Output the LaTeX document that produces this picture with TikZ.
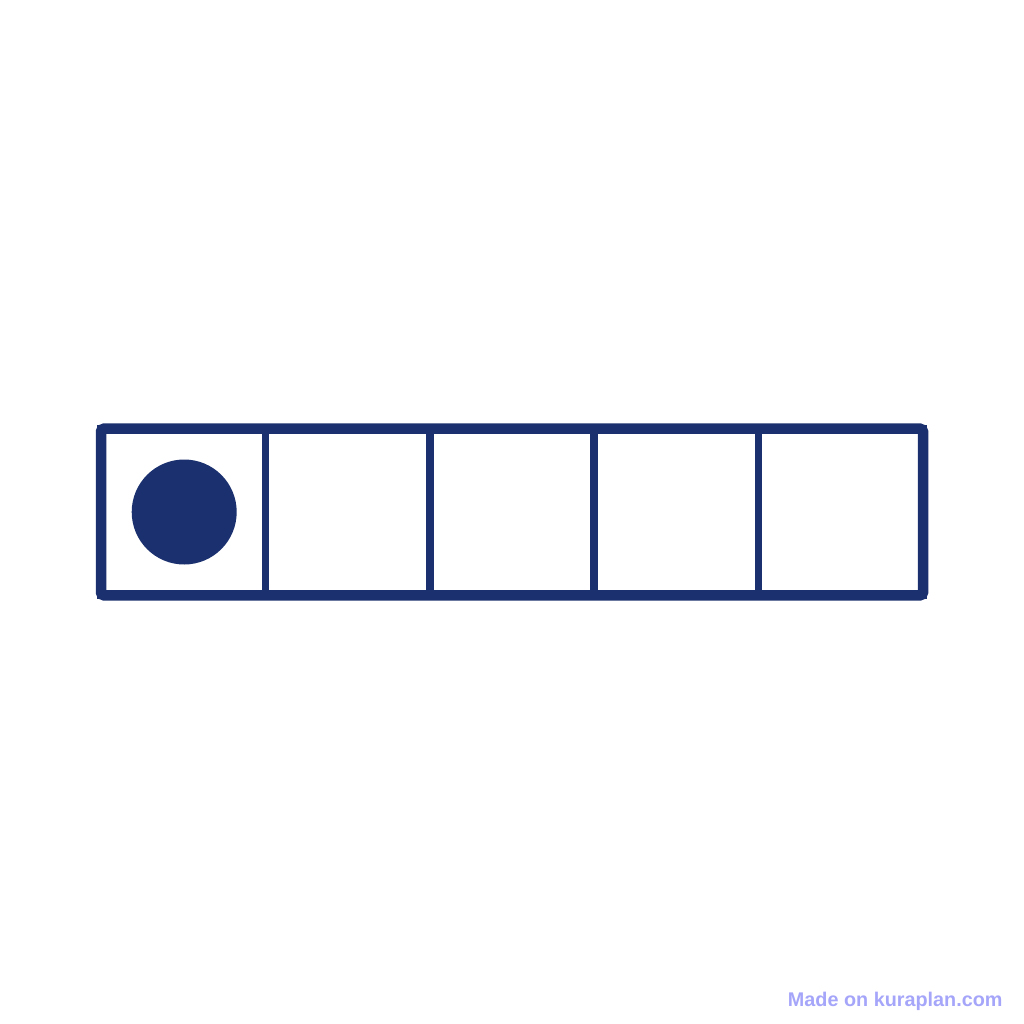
\documentclass[tikz,border=0pt]{standalone}
\usepackage{fontspec}
\setmainfont{Liberation Sans}
\usetikzlibrary{positioning}
\definecolor{navy}{RGB}{27,49,111}
\definecolor{mark}{RGB}{165,165,250}
\tikzset{x=1pt, y=-1pt,
cell/.style={draw=navy, line width=7.5pt, rectangle, inner sep=0pt, outer sep=0pt,
  minimum width=164.4pt, minimum height=166.6pt},
frame/.style={draw=navy, line width=10.5pt, rounded corners=3pt},
counter/.style={circle, fill=navy, inner sep=0pt, minimum size=105pt}}

\begin{document}
\begin{tikzpicture}
\useasboundingbox (0,0) rectangle (1024,1024);
\node[cell] (c1) at (183.2,512) {};
\node[cell, right=0pt of c1] (c2) {};
\node[cell, right=0pt of c2] (c3) {};
\node[cell, right=0pt of c3] (c4) {};
\node[cell, right=0pt of c4] (c5) {};
\draw[frame] (c1.north west) rectangle (c5.south east);
\node[counter] (dot) at ([xshift=1pt]c1.center) {};
% watermark
\node[anchor=base east, inner sep=0pt, text=mark, font=\fontsize{19.8}{24}\selectfont\bfseries]
  (wm) at (1002.7,1006) {Made on kuraplan.com};
\end{tikzpicture}
\end{document}
